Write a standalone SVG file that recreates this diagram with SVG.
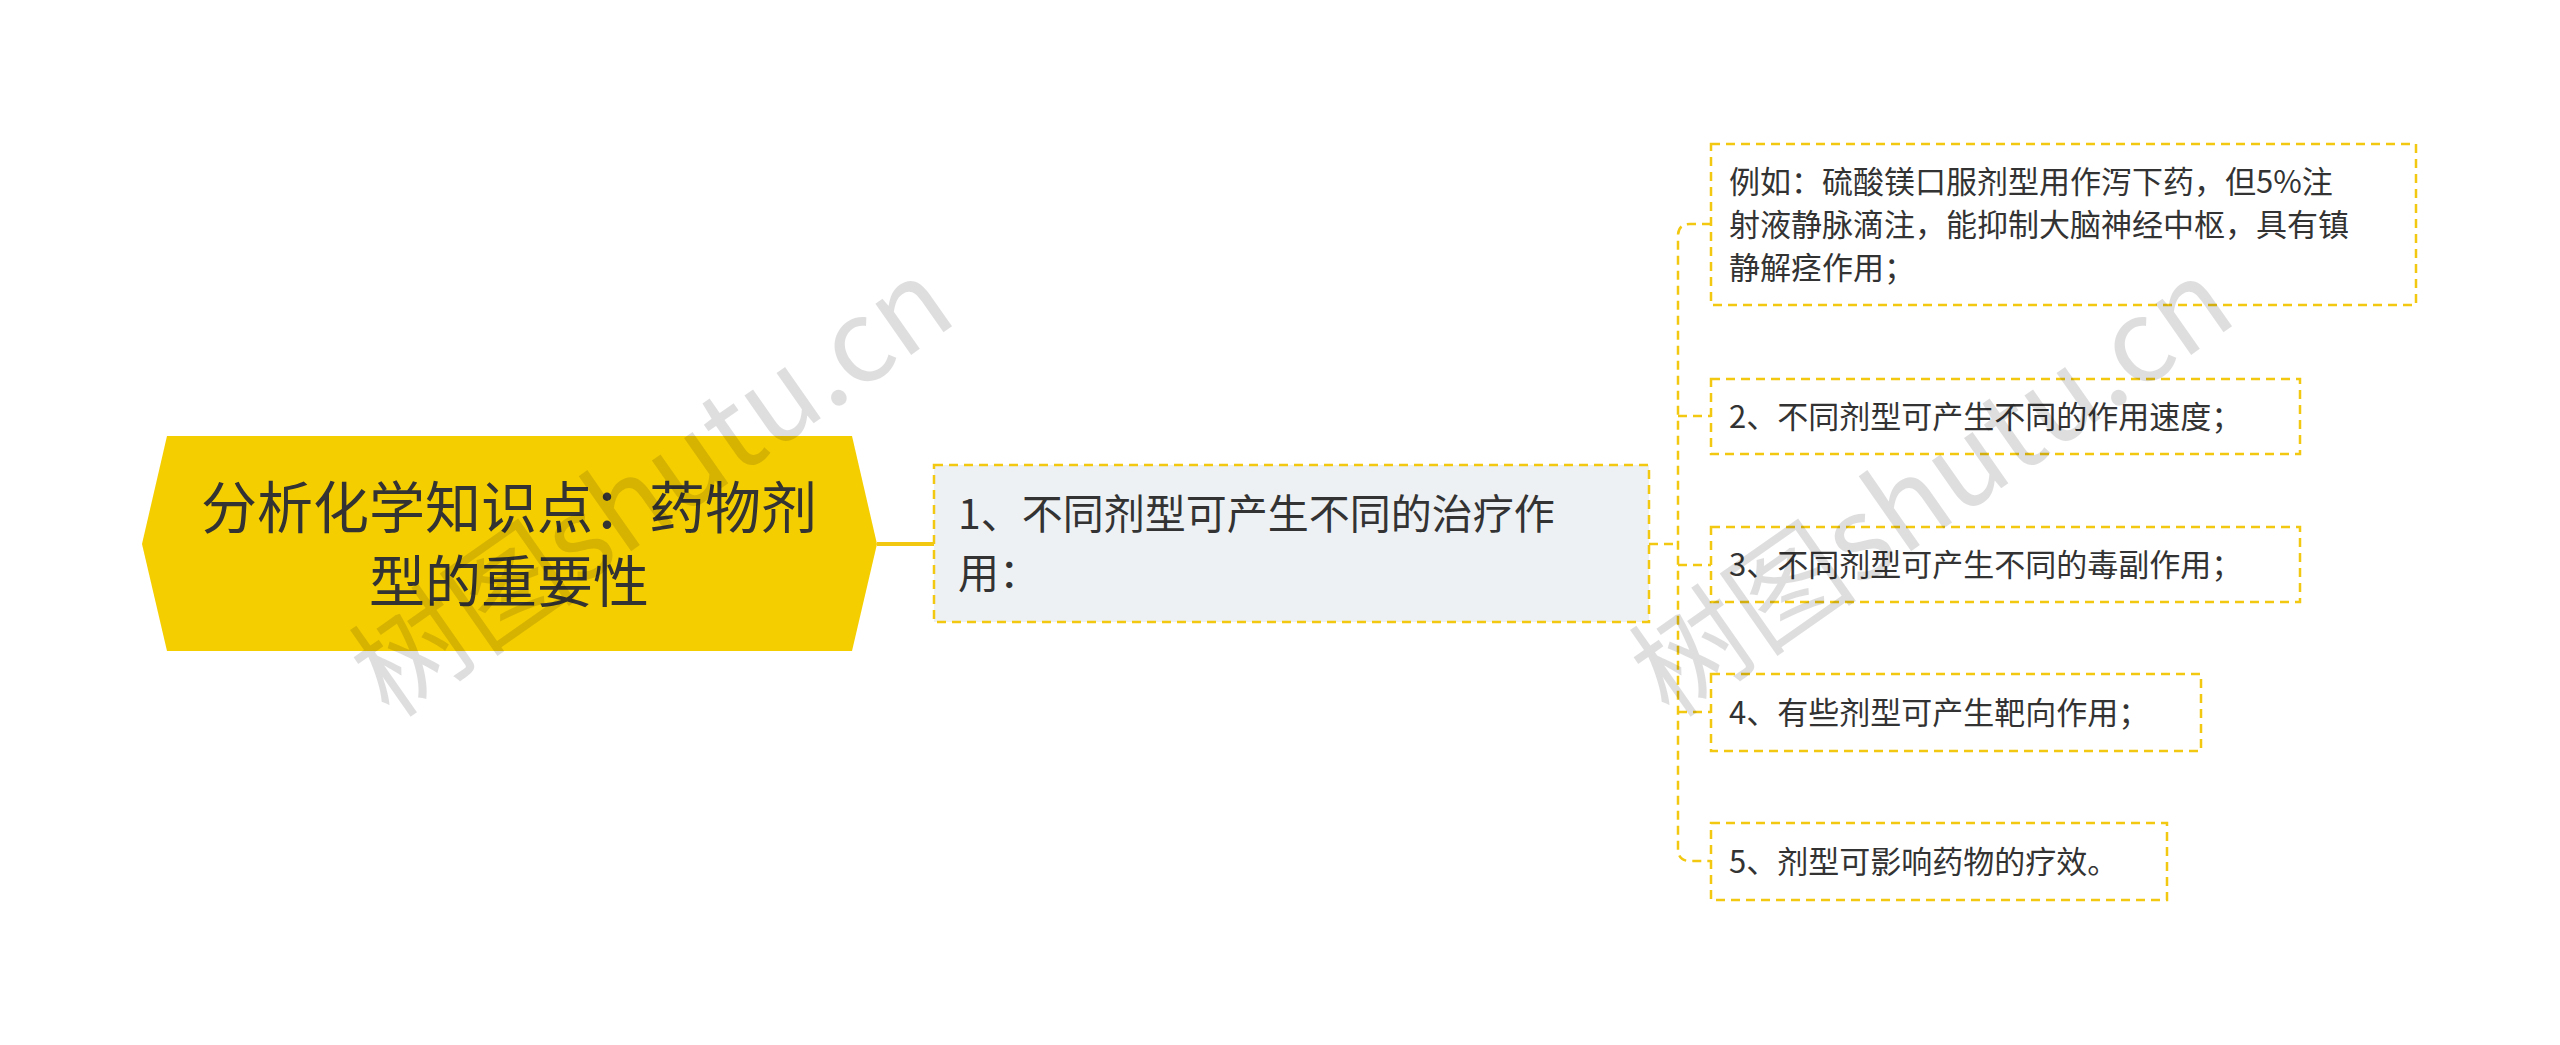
<svg xmlns="http://www.w3.org/2000/svg" width="2560" height="1045" viewBox="0 0 2560 1045">
<style>
text{font-family:"Noto Sans CJK SC","Noto Sans",sans-serif;fill:#333}
.box{fill:#fff;stroke:#f2c811;stroke-width:2.5;stroke-dasharray:9 6}
.ln{fill:none;stroke:#f2c811;stroke-width:2.5;stroke-dasharray:9 6}
.c{font-size:31px}
.wm{font-family:"Noto Sans CJK SC","Liberation Serif",serif;font-size:115px;fill:#000;fill-opacity:0.13}
</style>
<rect width="2560" height="1045" fill="#fff"/>
<g id="connectors">
<line x1="877" y1="544" x2="934" y2="544" stroke="#f2c811" stroke-width="4"/>
<path class="ln" d="M1649 544H1678"/>
<path class="ln" d="M1711 224H1690Q1678 224 1678 236V849Q1678 861 1690 861H1711"/>
<path class="ln" d="M1678 416H1711M1678 565H1711M1678 712H1711"/>
</g>
<g id="root">
<polygon points="167,436 852,436 877,544 852,651 167,651 142,544" fill="#f5ce00"/>
<text x="509" y="528" font-size="56" text-anchor="middle">分析化学知识点：药物剂</text>
<text x="509" y="602" font-size="56" text-anchor="middle">型的重要性</text>
</g>
<g id="n1">
<rect class="box" x="934" y="465" width="715" height="157" style="fill:#eef1f4"/>
<text x="958" y="529" font-size="41">1、不同剂型可产生不同的治疗作</text>
<text x="958" y="588" font-size="41">用：</text>
</g>
<g id="c1">
<rect class="box" x="1711" y="144" width="705" height="161"/>
<text class="c" x="1729" y="193">例如：硫酸镁口服剂型用作泻下药，但5%注</text>
<text class="c" x="1729" y="236">射液静脉滴注，能抑制大脑神经中枢，具有镇</text>
<text class="c" x="1729" y="279">静解痉作用；</text>
</g>
<g id="c2">
<rect class="box" x="1711" y="379" width="589" height="75"/>
<text class="c" x="1729" y="428">2、不同剂型可产生不同的作用速度；</text>
</g>
<g id="c3">
<rect class="box" x="1711" y="527" width="589" height="75"/>
<text class="c" x="1729" y="576">3、不同剂型可产生不同的毒副作用；</text>
</g>
<g id="c4">
<rect class="box" x="1711" y="674" width="490" height="77"/>
<text class="c" x="1729" y="724">4、有些剂型可产生靶向作用；</text>
</g>
<g id="c5">
<rect class="box" x="1711" y="823" width="456" height="77"/>
<text class="c" x="1729" y="873">5、剂型可影响药物的疗效。</text>
</g>
<g id="watermark">
<text class="wm" transform="translate(390,720) rotate(-35)">树图shutu.cn</text>
<text class="wm" transform="translate(1670,720) rotate(-35)">树图shutu.cn</text>
</g>
</svg>
